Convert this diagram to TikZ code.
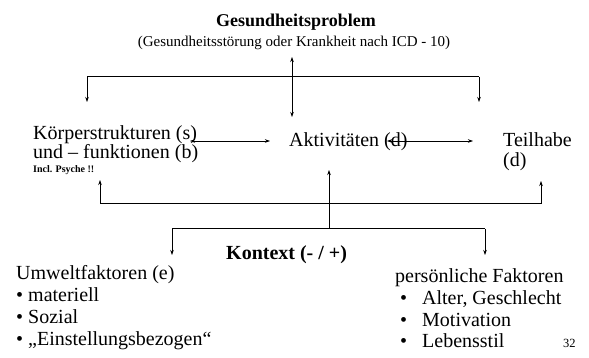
\documentclass[tikz,border=0pt]{standalone}
\usepackage{fontspec}
\setmainfont{Liberation Serif}
\usetikzlibrary{arrows.meta}
\begin{document}
\begin{tikzpicture}[x=1pt,y=-1pt,
  txt/.style={inner sep=0pt, anchor=base west, font=\fontsize{20}{20}\selectfont},
  conn/.style={line width=0.6pt},
  bar/.style={line width=1pt},
  tip/.style={-{Stealth[length=5pt,width=3.5pt]}},
  tips/.style={{Stealth[length=5pt,width=3.5pt]}-{Stealth[length=5pt,width=3.5pt]}},
]
\useasboundingbox (0,0) rectangle (589,358);
% texts
\node[inner sep=0pt, anchor=base, font=\fontsize{18}{18}\selectfont\bfseries] (gp) at (296,27) {Gesundheitsproblem};
\node[inner sep=0pt, anchor=base, font=\fontsize{15}{15}\selectfont] (gps) at (294,47) {(Gesundheitsstörung oder Krankheit nach ICD - 10)};
\node[txt] (k1) at (33,140) {Körperstrukturen (s)};
\node[txt] (k2) at (33,159) {und – funktionen (b)};
\node[txt, font=\fontsize{10}{10}\selectfont\bfseries] (k3) at (33,173) {Incl. Psyche !!};
\node[txt] (akt) at (289,147) {Aktivitäten (d)};
\node[txt] (t1) at (503,147) {Teilhabe};
\node[txt] (t2) at (503,167) {(d)};
\node[txt, font=\fontsize{20}{20}\selectfont\bfseries] (kon) at (226,259) {Kontext (- / +)};
\node[txt] (u0) at (16,279) {Umweltfaktoren (e)};
\node[txt] (u1) at (16,301) {• materiell};
\node[txt] (u2) at (16,323) {• Sozial};
\node[txt] (u3) at (16,345) {• „Einstellungsbezogen“};
\node[txt] (p0) at (395,282) {persönliche Faktoren};
\node[txt] (p1) at (400,304) {\makebox[22pt][l]{•}Alter, Geschlecht};
\node[txt] (p2) at (400,326) {\makebox[22pt][l]{•}Motivation};
\node[txt] (p3) at (400,347) {\makebox[22pt][l]{•}Lebensstil};
\node[txt, font=\fontsize{12.5}{12.5}\selectfont] (num) at (563,347) {32};
% coordinates
\coordinate (gtop) at (292,57);
\coordinate (gbot) at (292,117);
\coordinate (bl) at (87,77);
\coordinate (br) at (479,77);
\coordinate (bla) at (87,102);
\coordinate (bra) at (479,102);
\coordinate (ka) at (190,141);
\coordinate (kb) at (270,141);
\coordinate (aa) at (387,141);
\coordinate (ab) at (473,141);
\coordinate (rl) at (100,204);
\coordinate (rr) at (541,204);
\coordinate (rla) at (100,180);
\coordinate (rra) at (541,181);
\coordinate (cl) at (172,229);
\coordinate (cr) at (485,229);
\coordinate (cm) at (329,229);
\coordinate (cma) at (329,170);
\coordinate (cla) at (172,255);
\coordinate (cra) at (485,255);
% connectors
\draw[conn,tips] (gtop) -- (gbot);
\draw[bar] (bl) -- (br);
\draw[conn,tip] (bl) -- (bla);
\draw[conn,tip] (br) -- (bra);
\draw[conn,tips] (ka) -- (kb);
\draw[conn,tips] (aa) -- (ab);
\draw[bar] (rl) -- (rr);
\draw[conn,tip] (rl) -- (rla);
\draw[conn,tip] (rr) -- (rra);
\draw[bar] (cl) -- (cr);
\draw[conn,tip] (cm) -- (cma);
\draw[conn,tip] (cl) -- (cla);
\draw[conn,tip] (cr) -- (cra);
\end{tikzpicture}
\end{document}
